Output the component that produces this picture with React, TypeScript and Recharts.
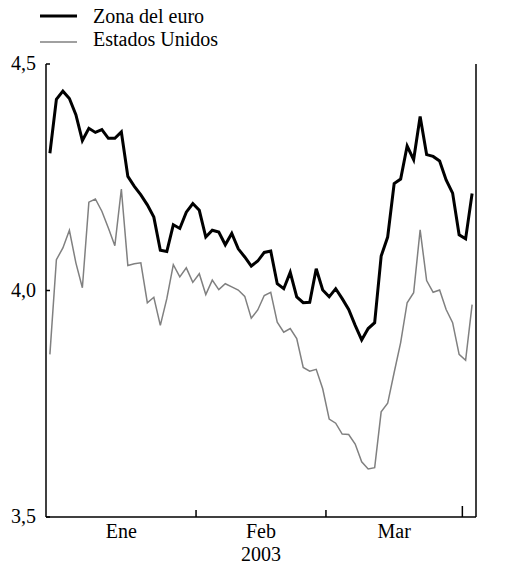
import { LineChart, Line, XAxis, YAxis } from 'recharts'

// Zona del euro (thick black) and Estados Unidos (thin grey), trading days Jan-Mar 2003
const EURO = [
  4.303, 4.422, 4.44, 4.424, 4.388, 4.331, 4.358, 4.349, 4.355, 4.336, 4.336, 4.35,
  4.252, 4.23, 4.211, 4.189, 4.162, 4.089, 4.086, 4.145, 4.137, 4.173, 4.192, 4.177,
  4.118, 4.133, 4.129, 4.101, 4.126, 4.092, 4.074, 4.054, 4.065, 4.084, 4.087, 4.015,
  4.004, 4.04, 3.986, 3.973, 3.974, 4.048, 4.001, 3.986, 4.004, 3.982, 3.958, 3.923,
  3.891, 3.916, 3.929, 4.076, 4.118, 4.236, 4.246, 4.319, 4.289, 4.384, 4.3, 4.296,
  4.286, 4.244, 4.215, 4.123, 4.114, 4.214,
]
const USA = [
  3.859, 4.068, 4.094, 4.133, 4.061, 4.006, 4.195, 4.202, 4.175, 4.138, 4.099, 4.224,
  4.055, 4.059, 4.061, 3.973, 3.985, 3.923, 3.982, 4.057, 4.03, 4.05, 4.018, 4.037,
  3.991, 4.023, 4.002, 4.015, 4.008, 4.001, 3.987, 3.939, 3.957, 3.989, 3.996, 3.93,
  3.908, 3.916, 3.894, 3.83, 3.822, 3.826, 3.783, 3.716, 3.707, 3.683, 3.682, 3.661,
  3.622, 3.606, 3.609, 3.732, 3.751, 3.819, 3.885, 3.973, 3.995, 4.134, 4.022, 3.996,
  4.001, 3.958, 3.929, 3.859, 3.846, 3.969,
]
const MONTHS = ['Ene', 'Feb', 'Mar']
const MONTH_START = [-0.5, 22.5, 42.5]
const MONTH_END = [22.5, 42.5, 63.5]
const Y_TICKS = [3.5, 4.0, 4.5]

const data = EURO.map((v, i) => ({ i, euro: v, usa: USA[i] }))
const labelPos = MONTH_START.map((s, k) => (s + MONTH_END[k]) / 2)

const FONT = 'Liberation Serif, Times New Roman, serif'
const fmt = (v: number) => v.toFixed(1).replace('.', ',')

const XTick = (props: any) => {
  const { x, y, payload } = props
  const v = payload.value
  const mark = MONTH_END.indexOf(v)
  if (mark >= 0) {
    const len = mark === MONTH_END.length - 1 ? 11 : 7
    return <line x1={x} x2={x} y1={y} y2={y - len} stroke="#000" strokeWidth={1.5} />
  }
  const k = labelPos.indexOf(v)
  return (
    <text x={x} y={y + 21} textAnchor="middle" fontFamily={FONT} fontSize={20} fill="#000">
      {MONTHS[k]}
    </text>
  )
}

const LeftTick = (props: any) => {
  const { x, y, payload } = props
  return (
    <g>
      <line x1={x} x2={x + 4} y1={y} y2={y} stroke="#000" strokeWidth={1.5} />
      <text x={x - 10} y={y + 6} textAnchor="end" fontFamily={FONT} fontSize={20} fill="#000">
        {fmt(payload.value)}
      </text>
    </g>
  )
}

const RightTick = (props: any) => {
  const { x, y, payload } = props
  return (
    <g>
      <line x1={x - 4} x2={x} y1={y} y2={y} stroke="#000" strokeWidth={1.5} />
      <text x={x + 9} y={y + 6} textAnchor="start" fontFamily={FONT} fontSize={20} fill="#000">
        {fmt(payload.value)}
      </text>
    </g>
  )
}

export default function App() {
  return (
    <div style={{ position: 'absolute', left: 0, top: 0, width: 513, height: 567, background: '#fff' }}>
      <svg width={260} height={60} style={{ position: 'absolute', left: 0, top: 0 }}>
        <line x1={40} x2={77} y1={16} y2={16} stroke="#000" strokeWidth={3} />
        <text x={93} y={23} fontFamily={FONT} fontSize={20} fill="#000">Zona del euro</text>
        <line x1={40} x2={77} y1={42} y2={42} stroke="#808080" strokeWidth={1.5} />
        <text x={93} y={46} fontFamily={FONT} fontSize={20} fill="#000">Estados Unidos</text>
      </svg>
      <LineChart width={513} height={567} data={data} margin={{ top: 64, right: 0, bottom: 0, left: 0 }}>
        <XAxis
          dataKey="i"
          type="number"
          domain={[-0.6, 65.6]}
          allowDataOverflow
          ticks={[...MONTH_END, ...labelPos]}
          interval={0}
          tick={<XTick />}
          tickLine={false}
          tickSize={0}
          tickMargin={0}
          height={50}
          axisLine={{ stroke: '#000', strokeWidth: 1.5 }}
          label={{ value: '2003', position: 'insideBottom', offset: 6, fontFamily: FONT, fontSize: 20, fill: '#000' }}
        />
        <YAxis
          yAxisId="l"
          orientation="left"
          domain={[3.5, 4.5]}
          ticks={Y_TICKS}
          interval={0}
          width={46}
          tick={<LeftTick />}
          tickLine={false}
          tickSize={0}
          tickMargin={0}
          axisLine={{ stroke: '#000', strokeWidth: 1.5 }}
        />
        <YAxis
          yAxisId="r"
          orientation="right"
          domain={[3.5, 4.5]}
          ticks={Y_TICKS}
          interval={0}
          width={37}
          tick={<RightTick />}
          tickLine={false}
          tickSize={0}
          tickMargin={0}
          axisLine={{ stroke: '#000', strokeWidth: 1.5 }}
        />
        <Line yAxisId="l" type="linear" dataKey="usa" stroke="#808080" strokeWidth={1.5} dot={false} isAnimationActive={false} />
        <Line yAxisId="l" type="linear" dataKey="euro" stroke="#000" strokeWidth={3} dot={false} isAnimationActive={false} />
      </LineChart>
    </div>
  )
}
